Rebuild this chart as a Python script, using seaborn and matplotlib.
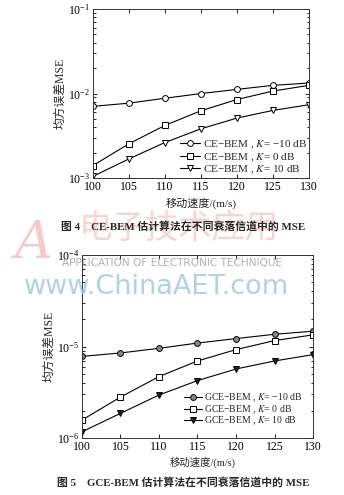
import numpy as np
import pandas as pd
import matplotlib
matplotlib.use("Agg")
import matplotlib.pyplot as plt
import seaborn as sns

sns.set_style("ticks")
plt.rcParams['font.family'] = ['Liberation Serif', 'Noto Sans CJK SC']
plt.rcParams['mathtext.fontset'] = 'stix'
plt.rcParams['axes.unicode_minus'] = True

speed = [100, 105, 110, 115, 120, 125, 130]

# Figure 4: CE-BEM
ce_m10 = [7.06e-3, 7.7e-3, 8.8e-3, 1.0e-2, 1.12e-2, 1.25e-2, 1.33e-2]
ce_0 = [1.41e-3, 2.55e-3, 4.2e-3, 6.26e-3, 8.5e-3, 1.07e-2, 1.25e-2]
ce_10 = [1.05e-3, 1.69e-3, 2.64e-3, 3.83e-3, 5.13e-3, 6.32e-3, 7.38e-3]

# Figure 5: GCE-BEM
gce_m10 = [7.8e-6, 8.5e-6, 9.55e-6, 1.09e-5, 1.22e-5, 1.36e-5, 1.47e-5]
gce_0 = [1.57e-6, 2.8e-6, 4.69e-6, 6.95e-6, 9.25e-6, 1.16e-5, 1.34e-5]
gce_10 = [1.17e-6, 1.86e-6, 2.95e-6, 4.24e-6, 5.68e-6, 6.95e-6, 8.15e-6]

labels_ce = ["CE\u2212BEM , $K$= \u221210 dB", "CE\u2212BEM , $K$= 0 dB", "CE\u2212BEM , $K$= 10 dB"]
labels_gce = ["GCE\u2212BEM , $K$= \u221210 dB", "GCE\u2212BEM , $K$= 0 dB", "GCE\u2212BEM , $K$= 10 dB"]
xticks = [100, 105, 110, 115, 120, 125, 130]
ylabel = "均方误差MSE"
xlabel = "移动速度/(m/s)"
cap4 = "图 4    CE-BEM 估计算法在不同衰落信道中的 MSE"
cap5 = "图 5    GCE-BEM 估计算法在不同衰落信道中的 MSE"

fig = plt.figure(figsize=(3.44, 4.95), dpi=100)
ax1 = fig.add_axes([0.270, 0.640, 0.628, 0.342])
ax2 = fig.add_axes([0.238, 0.115, 0.672, 0.370])


def draw(ax, series, labels, styles, ylim, legsize, legpad, lspace):
    for vals, lab, (mk, fc) in zip(series, labels, styles):
        df = pd.DataFrame({"speed": speed, "mse": vals})
        sns.lineplot(data=df, x="speed", y="mse", ax=ax, color="black", lw=0.8,
                     marker=mk, markersize=4.2, markerfacecolor=fc,
                     markeredgecolor="black", markeredgewidth=0.7, label=lab)
    ax.set_yscale("log")
    ax.set_ylim(*ylim)
    ax.set_xlim(100, 130)
    ax.set_xticks(xticks)
    ax.tick_params(which="both", direction="in", top=True, right=True,
                   labelsize=8.5, width=0.6, colors="black", pad=2)
    ax.tick_params(which="major", length=3)
    ax.tick_params(which="minor", length=1.8)
    for s in ax.spines.values():
        s.set_linewidth(0.7)
        s.set_color("#333333")
    ax.set_xlabel("")
    ax.set_ylabel(ylabel, fontsize=8.5, labelpad=1)
    ax.legend(loc="lower right", frameon=False, fontsize=legsize,
              handlelength=1.8, handletextpad=0.2, labelspacing=lspace,
              borderaxespad=legpad, borderpad=0.2)


draw(ax1, [ce_m10, ce_0, ce_10], labels_ce,
     [("o", "white"), ("s", "white"), ("v", "white")], (1e-3, 1e-1), 8.0, 0.0, 0.0)
draw(ax2, [gce_m10, gce_0, gce_10], labels_gce,
     [("o", "#888888"), ("s", "white"), ("v", "#222222")], (1e-6, 1e-4), 7.0, 0.9, -0.1)

fig.text(0.585, 1 - 203 / 495, xlabel, ha="center", va="center", fontsize=8)
fig.text(0.59, 1 - 462 / 495, xlabel, ha="center", va="center", fontsize=7.5)
fig.text(0.532, 1 - 226 / 495, cap4, ha="center", va="center", fontsize=7.8,
         fontweight="bold", zorder=6)
fig.text(0.532, 1 - 482 / 495, cap5, ha="center", va="center", fontsize=7.8,
         fontweight="bold", zorder=6)

# watermark
fig.text(0.04, 1 - 243 / 495, "A", fontsize=38, color="#f3b4b4", alpha=0.7,
         ha="left", va="center", style="italic", family="DejaVu Serif", zorder=1)
fig.text(0.52, 1 - 228 / 495, "电子技术应用", fontsize=24, color="#f3b8b8",
         alpha=0.6, ha="center", va="center", family="Noto Sans CJK SC",
         style="italic", zorder=1)
fig.text(0.50, 1 - 263 / 495, "APPLICATION OF ELECTRONIC TECHNIQUE",
         fontsize=7.6, color="#b0b0b0", ha="center", va="center",
         family="DejaVu Sans", zorder=2)
fig.text(0.455, 1 - 287 / 495, "www.ChinaAET.com", fontsize=19.5,
         color="#a8cde0", alpha=0.9, ha="center", va="center",
         family="DejaVu Sans", zorder=2)

fig.savefig("out.png", dpi=100)
